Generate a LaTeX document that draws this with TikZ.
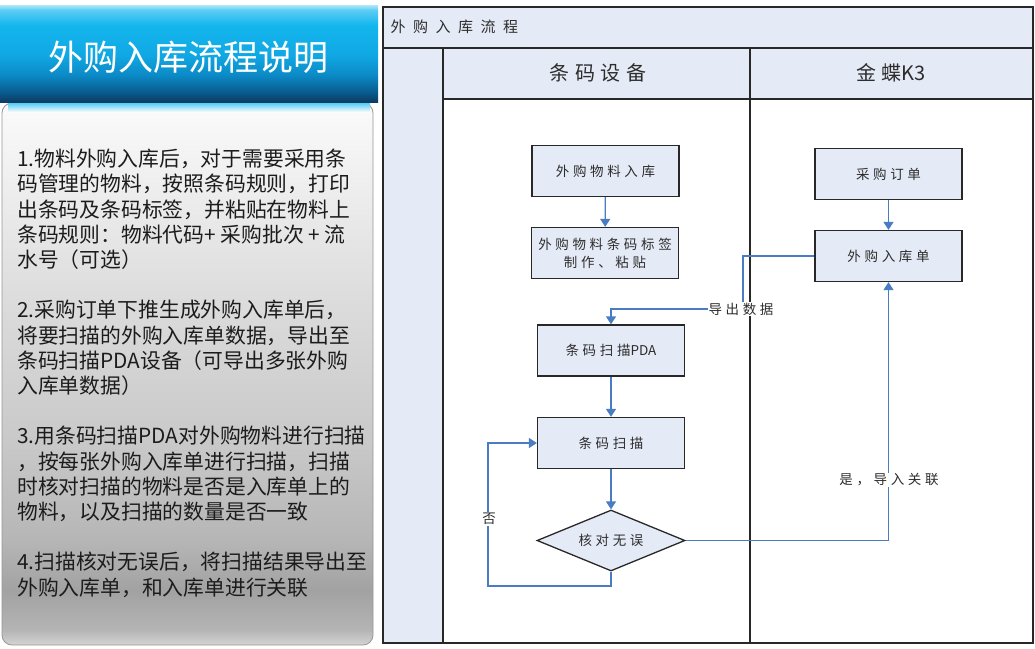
\documentclass[tikz,border=0pt]{standalone}
\usepackage{fontspec}
\setmainfont{Noto Sans CJK SC}
\newfontfamily\flowfont[LetterSpace=27]{Noto Sans CJK SC}
\newfontfamily\bandfont[LetterSpace=50]{Noto Sans CJK SC}
\usetikzlibrary{arrows.meta,shapes.geometric}
\definecolor{laneblue}{RGB}{229,235,246}
\definecolor{flowblue}{RGB}{74,124,196}
\definecolor{frameline}{RGB}{40,40,40}
\definecolor{boxtext}{RGB}{45,45,45}
\definecolor{notetext}{RGB}{28,28,28}
\definecolor{noteline}{RGB}{150,150,150}
\definecolor{stripcyan}{RGB}{64,200,244}
\definecolor{hdrA}{RGB}{11,60,98}
\definecolor{hdrB}{RGB}{10,92,144}
\definecolor{hdrC}{RGB}{11,138,198}
\definecolor{hdrD}{RGB}{16,168,228}
\definecolor{hdrE}{RGB}{20,182,238}
\definecolor{hdrF}{RGB}{92,205,244}
\definecolor{hdrG}{RGB}{176,232,250}
\definecolor{noteA}{RGB}{212,212,212}
\definecolor{noteB}{RGB}{180,180,180}
\definecolor{noteC}{RGB}{162,162,162}
\definecolor{noteD}{RGB}{182,182,182}
\definecolor{noteE}{RGB}{201,201,201}
\definecolor{noteF}{RGB}{220,220,220}
\definecolor{noteG}{RGB}{242,242,242}
\definecolor{noteH}{RGB}{251,251,251}
\pgfdeclareverticalshading{hdrshade}{100bp}{color(0bp)=(hdrA); color(25bp)=(hdrA); color(30.2bp)=(hdrB); color(38.9bp)=(hdrC); color(49.2bp)=(hdrD); color(64.7bp)=(hdrE); color(72.4bp)=(hdrF); color(75bp)=(hdrG); color(100bp)=(hdrG)}
\pgfdeclareverticalshading{noteshade}{100bp}{color(0bp)=(noteA); color(25bp)=(noteA); color(26.4bp)=(noteB); color(30bp)=(noteC); color(34.7bp)=(noteD); color(43.9bp)=(noteE); color(56.8bp)=(noteF); color(69.7bp)=(noteG); color(75bp)=(noteH); color(100bp)=(noteH)}
\begin{document}
\begin{tikzpicture}[x = 1pt, y = -1pt,
  lanefill/.style = {fill = laneblue},
  lanerule/.style = {draw = frameline, line width = 1.6},
  flowbox/.style = {draw = frameline, line width = 1.3, fill = laneblue, minimum width = 147pt, minimum height = 51pt, inner sep = 0pt, align = center, text = boxtext, font = \flowfont\fontsize{13.5}{18}\selectfont},
  checkbox/.style = {flowbox, diamond, minimum width = 148pt, minimum height = 61pt, aspect = 2.4},
  flowline/.style = {draw = flowblue, line width = 1.3, -{Triangle[width = 10pt, length = 8pt]}},
  flowtag/.style = {fill = white, inner sep = 1pt, text = boxtext, font = \flowfont\fontsize{13.5}{18}\selectfont}]
\useasboundingbox (0,0) rectangle (1035,648);

\path[shading = noteshade, draw = noteline, line width = 0.8, rounded corners = 10] (2,103) rectangle (373,645);
\path[top color = stripcyan, bottom color = noteH] (8,102) rectangle (370,112);
\path[shading = hdrshade] (0,5) rectangle (378,102);
\node[text = white, font = \fontsize{35}{40}\selectfont] (head) at (188,57) {外购入库流程说明};
\node[anchor = north west, align = left, inner sep = 0pt, text = notetext, font = \fontsize{20.8}{25.2}\selectfont] (notes) at (17,149) {1.物料外购入库后，对于需要采用条\\码管理的物料，按照条码规则，打印\\出条码及条码标签，并粘贴在物料上\\条码规则：物料代码+ 采购批次 + 流\\水号（可选）\\[25.2pt]2.采购订单下推生成外购入库单后，\\将要扫描的外购入库单数据，导出至\\条码扫描PDA设备（可导出多张外购\\入库单数据）\\[25.2pt]3.用条码扫描PDA对外购物料进行扫描\\，按每张外购入库单进行扫描，扫描\\时核对扫描的物料是否是入库单上的\\物料，以及扫描的数量是否一致\\[25.2pt]4.扫描核对无误后，将扫描结果导出至\\外购入库单，和入库单进行关联};

\fill[lanefill] (383,7) rectangle (1033,48);
\fill[lanefill] (383,48) rectangle (443,643);
\fill[lanefill] (443,48) rectangle (1033,99);
\draw[lanerule] (383,7) rectangle (1033,643);
\draw[lanerule] (383,48) -- (1033,48);
\draw[lanerule] (443,99) -- (1033,99);
\draw[lanerule] (443,48) -- (443,643);
\draw[lanerule] (750,48) -- (750,643);
\node[anchor = west, text = boxtext, font = \bandfont\fontsize{15}{18}\selectfont] (band) at (387,27) {外购入库流程};
\node[text = boxtext, font = \flowfont\fontsize{20}{24}\selectfont] (barcode) at (598,73) {条码设备};
\node[text = boxtext, font = \flowfont\fontsize{20}{24}\selectfont] (kingdee) at (891,73) {金蝶{\rmfamily K3}};

\node[flowbox] (stockin) at (605.5,171) {外购物料入库};
\node[flowbox] (label) at (605,253) {外购物料条码标签\\制作、粘贴};
\node[flowbox] (pda) at (611,350.5) {条码扫描{\rmfamily PDA}};
\node[flowbox] (scan) at (611,443) {条码扫描};
\node[checkbox] (check) at (611,540.5) {核对无误};
\node[flowbox] (order) at (888.5,174) {采购订单};
\node[flowbox] (bill) at (888.5,256) {外购入库单};

\draw[flowline] (stockin) -- (label);
\draw[flowline] (order) -- (bill);
\draw[flowline] (pda) -- (scan);
\draw[flowline] (scan) -- (check);
\draw[flowline] (bill.west) -| (743,309) -| (pda.north);
\draw[flowline] (check.east) -| (bill.south);
\draw[flowline] (check.south) |- (488,586) |- (scan.west);
\node[flowtag] (export) at (741,309) {导出数据};
\node[flowtag] (link) at (889,480) {是，导入关联};
\node[flowtag] (retry) at (489,519) {否};

\end{tikzpicture}
\end{document}
